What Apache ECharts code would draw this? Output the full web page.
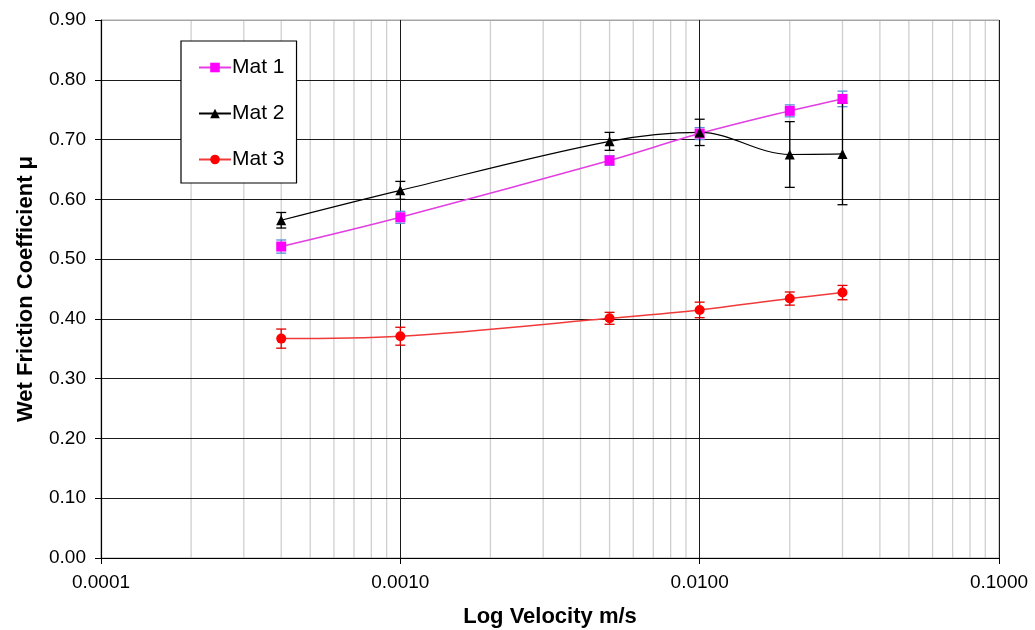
<!DOCTYPE html>
<html>
<head>
<meta charset="utf-8">
<script src="https://cdn.jsdelivr.net/npm/echarts@6/dist/echarts.min.js"></script>
<style>html,body{margin:0;padding:0;background:#fff}#c{width:1035px;height:630px}</style>
</head>
<body>
<div id="c"></div>
<script>
const velocity = [0.0004, 0.001, 0.005, 0.01, 0.02, 0.03];
const mat1 = [0.521, 0.570, 0.665, 0.710, 0.748, 0.768];
const mat1Err = [0.011, 0.010, 0.008, 0.010, 0.010, 0.013];
const mat2 = [0.565, 0.615, 0.697, 0.712, 0.675, 0.676];
const mat2Err = [0.013, 0.015, 0.015, 0.022, 0.055, 0.085];
const mat3 = [0.367, 0.371, 0.401, 0.415, 0.434, 0.444];
const mat3Err = [0.016, 0.015, 0.010, 0.013, 0.011, 0.012];
const yTicks = [0, 0.1, 0.2, 0.3, 0.4, 0.5, 0.6, 0.7, 0.8, 0.9];
const xDecades = [0.0001, 0.001, 0.01, 0.1];
const minorX = [];
for (let d = 0; d < 3; d++) for (let k = 2; k <= 9; k++) minorX.push(+(k * xDecades[d]).toPrecision(3));

const FONT = '"Liberation Sans", Arial, sans-serif';

function pts(vals) { return velocity.map((v, i) => [v, vals[i]]); }
function errs(vals, e) { return velocity.map((v, i) => [v, vals[i] - e[i], vals[i] + e[i]]); }

function errorSeries(vals, e, color) {
  return {
    type: 'custom', silent: true, z: 1,
    data: errs(vals, e),
    renderItem: function (params, api) {
      const lo = api.coord([api.value(0), api.value(1)]);
      const hi = api.coord([api.value(0), api.value(2)]);
      const w = 5;
      const st = { stroke: color, lineWidth: 1.3 };
      return {
        type: 'group', children: [
          { type: 'line', shape: { x1: lo[0], y1: lo[1], x2: hi[0], y2: hi[1] }, style: st },
          { type: 'line', shape: { x1: lo[0] - w, y1: lo[1], x2: lo[0] + w, y2: lo[1] }, style: st },
          { type: 'line', shape: { x1: hi[0] - w, y1: hi[1], x2: hi[0] + w, y2: hi[1] }, style: st }
        ]
      };
    }
  };
}

const chart = echarts.init(document.getElementById('c'), null, { renderer: 'canvas' });
chart.setOption({
  animation: false,
  backgroundColor: '#fff',
  textStyle: { fontFamily: FONT },
  grid: { left: 101, right: 36, top: 20, bottom: 72, show: true, borderColor: '#a6a6a6', borderWidth: 1, containLabel: false, outerBoundsMode: 'none' },
  legend: {
    orient: 'vertical', left: 181, top: 41,
    padding: [16, 12, 13, 17], itemGap: 25, itemWidth: 32, itemHeight: 12,
    borderColor: '#000', borderWidth: 1.2, backgroundColor: '#fff',
    textStyle: { fontFamily: FONT, fontSize: 21, color: '#000', padding: [0, 0, 0, -4] },
    data: ['Mat 1', 'Mat 2', 'Mat 3']
  },
  xAxis: {
    type: 'log', min: 0.0001, max: 0.1, logBase: 10,
    name: 'Log Velocity m/s', nameLocation: 'middle', nameGap: 48,
    nameTextStyle: { fontFamily: FONT, fontSize: 22, fontWeight: 'bold', color: '#000' },
    axisLine: { show: true, onZero: false, lineStyle: { color: '#000', width: 1.2 } },
    axisTick: { show: true, length: 6, lineStyle: { color: '#000' } },
    axisLabel: { fontFamily: FONT, fontSize: 19, color: '#000', margin: 15, formatter: v => v.toFixed(4) },
    splitLine: { show: true, lineStyle: { color: ['#1a1a1a', '#1a1a1a', '#1a1a1a', '#a6a6a6'], width: 1 } }
  },
  yAxis: {
    type: 'value', min: 0, max: 0.9, interval: 0.1,
    name: 'Wet Friction Coefficient μ', nameLocation: 'middle', nameGap: 64,
    nameTextStyle: { fontFamily: FONT, fontSize: 22, fontWeight: 'bold', color: '#000' },
    axisLine: { show: true, lineStyle: { color: '#000', width: 1.2 } },
    axisTick: { show: true, length: 6, lineStyle: { color: '#000' } },
    axisLabel: { fontFamily: FONT, fontSize: 19, color: '#000', margin: 15, formatter: v => v.toFixed(2) },
    splitLine: { show: true, lineStyle: { color: ['#1a1a1a', '#1a1a1a', '#1a1a1a', '#1a1a1a', '#1a1a1a', '#1a1a1a', '#1a1a1a', '#1a1a1a', '#1a1a1a', '#a6a6a6'], width: 1 } }
  },
  series: [
    {
      type: 'custom', name: '_minor', silent: true, z: -1,
      data: minorX,
      renderItem: function (params, api) {
        const b = api.coord([api.value(0), yTicks[0]]);
        const t = api.coord([api.value(0), yTicks[yTicks.length - 1]]);
        return { type: 'line', shape: { x1: b[0], y1: b[1], x2: t[0], y2: t[1] }, style: { stroke: '#cfcfcf', lineWidth: 1.3 } };
      }
    },
    errorSeries(mat1, mat1Err, '#5b8fd6'),
    errorSeries(mat2, mat2Err, '#000'),
    errorSeries(mat3, mat3Err, '#e00000'),
    {
      type: 'line', name: 'Mat 1', data: pts(mat1), smooth: 0.35, z: 3,
      symbol: 'rect', symbolSize: 10,
      itemStyle: { color: '#ff00ff' }, lineStyle: { color: '#e23ee2', width: 1.5 }
    },
    {
      type: 'line', name: 'Mat 2', data: pts(mat2), smooth: 0.35, z: 3,
      symbol: 'triangle', symbolSize: 10,
      itemStyle: { color: '#000' }, lineStyle: { color: '#000', width: 1.2 }
    },
    {
      type: 'line', name: 'Mat 3', data: pts(mat3), smooth: 0.35, z: 3,
      symbol: 'circle', symbolSize: 10,
      itemStyle: { color: '#ff0000' }, lineStyle: { color: '#f03a3a', width: 1.5 }
    }
  ]
});
</script>
</body>
</html>
